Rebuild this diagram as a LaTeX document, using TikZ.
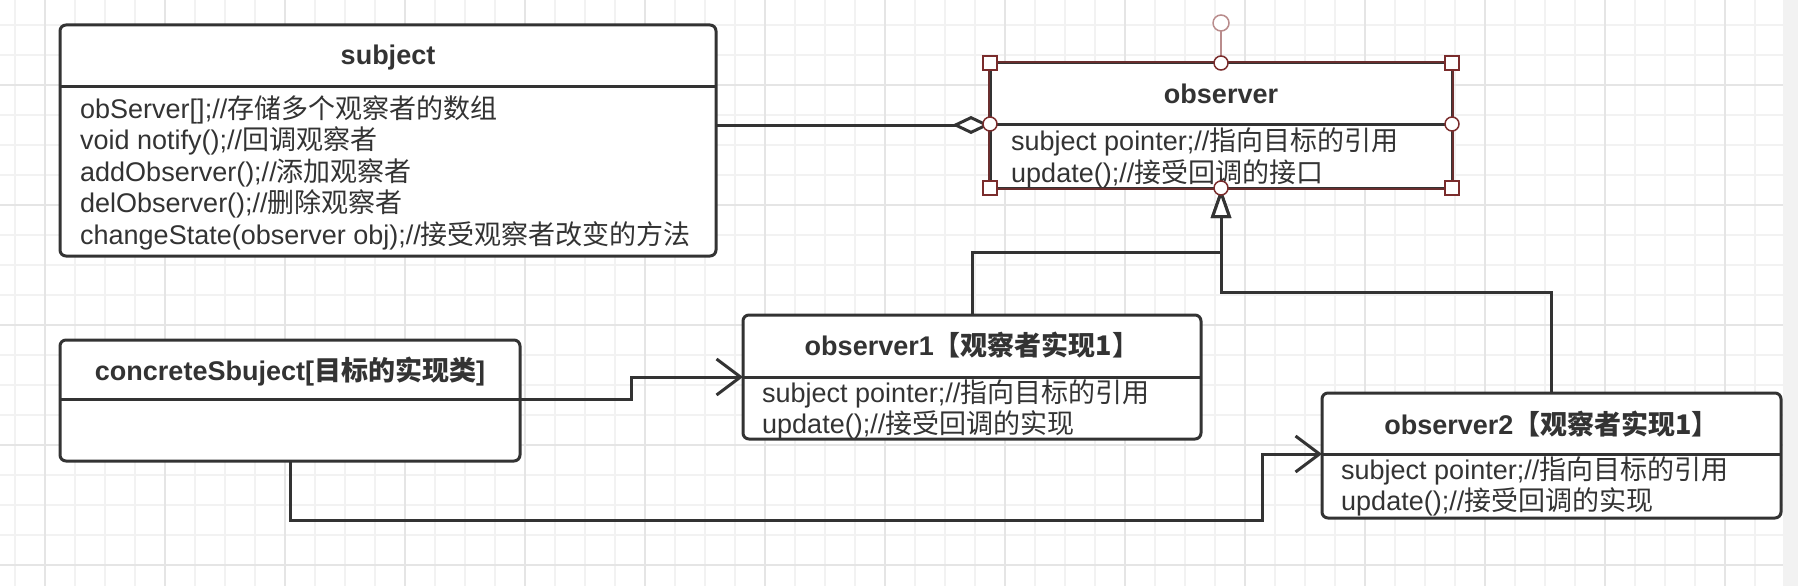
\documentclass[tikz,border=0pt]{standalone}
\usepackage{fontspec}
\setmainfont{Liberation Sans}
\newfontfamily\cjk{Noto Sans CJK SC}
\usetikzlibrary{arrows.meta,calc}
\definecolor{ink}{HTML}{333333}
\definecolor{gridminor}{HTML}{F2F2F2}
\definecolor{gridmajor}{HTML}{E5E5E5}
\definecolor{hdl}{HTML}{7A2C2C}
\definecolor{selc}{HTML}{6A2E2E}
\definecolor{rotc}{HTML}{B98C8C}
\definecolor{margin}{HTML}{F2F2F2}
\begin{document}
\begin{tikzpicture}[x=1pt,y=-1pt,
  font=\fontsize{27}{32}\selectfont,
  umlbox/.style={draw=ink, line width=3pt, rounded corners=6pt, fill=white, inner sep=0pt, outer sep=0pt},
  sepline/.style={draw=ink, line width=3pt},
  ttl/.style={anchor=base, font=\fontsize{27}{32}\selectfont\bfseries, text=ink, inner sep=0pt},
  attr/.style={anchor=base west, text=ink, inner sep=0pt},
  conn/.style={draw=ink, line width=3pt},
  aggtip/.style={-{Diamond[length=38pt,width=18pt,fill=white]}},
  gentip/.style={-{Triangle[length=30pt,width=20pt,fill=white]}},
  opentip/.style={-{Straight Barb[length=24pt,width=36pt]}},
  hsq/.style={fill=white, draw=hdl, line width=1.5pt},
]
\useasboundingbox (0,0) rectangle (1798,586);
% background grid
\fill[white] (0,0) rectangle (1783,586);
\fill[margin] (1783,0) rectangle (1798,586);
\foreach \x in {15,45,...,1755} \draw[gridminor, line width=1.5pt] (\x,0) -- (\x,586);
\foreach \y in {25,55,...,565} \draw[gridminor, line width=1.5pt] (0,\y) -- (1783,\y);
\foreach \x in {45,165,...,1725} \draw[gridmajor, line width=1.5pt] (\x,0) -- (\x,586);
\foreach \y in {85,205,...,565} \draw[gridmajor, line width=1.5pt] (0,\y) -- (1783,\y);

% boxes
\node[umlbox, minimum width=656pt, minimum height=231pt] (subject) at (388,140.5) {};
\draw[sepline] (subject.west |- 0,86) -- (subject.east |- 0,86);
\node[umlbox, rounded corners=0pt, minimum width=462pt, minimum height=125pt] (observer) at (1221,125.5) {};
\draw[sepline] (observer.west |- 0,124) -- (observer.east |- 0,124);
\node[umlbox, minimum width=460pt, minimum height=121pt] (concrete) at (290,400.5) {};
\draw[sepline] (concrete.west |- 0,399) -- (concrete.east |- 0,399);
\node[umlbox, minimum width=458pt, minimum height=124pt] (observer1) at (972,377) {};
\draw[sepline] (observer1.west |- 0,377) -- (observer1.east |- 0,377);
\node[umlbox, minimum width=459pt, minimum height=125pt] (observer2) at (1551.5,455.5) {};
\draw[sepline] (observer2.west |- 0,454) -- (observer2.east |- 0,454);

% texts
\node[ttl] (subjectT) at (388,65) {subject};
\node[attr] (s1) at (80,118) {obServer[];//{\cjk 存储多个观察者的数组}};
\node[attr] (s2) at (80,149.5) {void notify();//{\cjk 回调观察者}};
\node[attr] (s3) at (80,181) {addObserver();//{\cjk 添加观察者}};
\node[attr] (s4) at (80,212.5) {delObserver();//{\cjk 删除观察者}};
\node[attr] (s5) at (80,244) {changeState(observer obj);//{\cjk 接受观察者改变的方法}};

\node[ttl] (observerT) at (1221,103) {observer};
\node[attr] (o1) at (1011,150) {subject pointer;//{\cjk 指向目标的引用}};
\node[attr] (o2) at (1011,182) {update();//{\cjk 接受回调的接口}};

\node[ttl] (concreteT) at (290,380) {concreteSbuject[{\cjk 目标的实现类}]};

\node[ttl] (observer1T) at (972,355) {observer1{\cjk 【观察者实现1】}};
\node[attr] (p1) at (762,402) {subject pointer;//{\cjk 指向目标的引用}};
\node[attr] (p2) at (762,433) {update();//{\cjk 接受回调的实现}};

\node[ttl] (observer2T) at (1551.5,434) {observer2{\cjk 【观察者实现1】}};
\node[attr] (q1) at (1341,479) {subject pointer;//{\cjk 指向目标的引用}};
\node[attr] (q2) at (1341,510) {update();//{\cjk 接受回调的实现}};

% connectors
\coordinate (aggS) at (subject.east |- 0,125);
\coordinate (aggT) at (observer.west |- 0,125);
\draw[conn, aggtip] (aggS) -- (aggT);
\draw[conn, gentip] (observer1.north) -- ++(0,-63) -| (observer.south);
\draw[conn, gentip] (observer2.north) -- ++(0,-101) -| (observer.south);
\coordinate (c1S) at (concrete.east |- 0,399);
\draw[conn, opentip] (c1S) -- ++(111,0) |- (observer1.west);
\coordinate (o2in) at (observer2.west |- 0,454);
\coordinate (c2bend) at (1262,520);
\draw[conn, opentip] (concrete.south) |- (c2bend) |- (o2in);

% selection outline and handles on observer
\draw[selc, line width=1.5pt] ($(observer.north west)+(-0.8,-0.8)$) rectangle ($(observer.south east)+(0.8,0.8)$);
\draw[rotc, line width=1.5pt] (1221,31) -- (observer.north);
\filldraw[fill=white, draw=rotc, line width=1.5pt] (1221,23) circle[radius=8];
\foreach \p in {north west, north east, south west, south east}
  \filldraw[hsq] ($(observer.\p)+(-7,-7)$) rectangle ++(14,14);
\foreach \p in {north, south}
  \filldraw[hsq] (observer.\p) circle[radius=7];
\filldraw[hsq] (observer.west |- 0,124) circle[radius=7];
\filldraw[hsq] (observer.east |- 0,124) circle[radius=7];
\end{tikzpicture}
\end{document}
